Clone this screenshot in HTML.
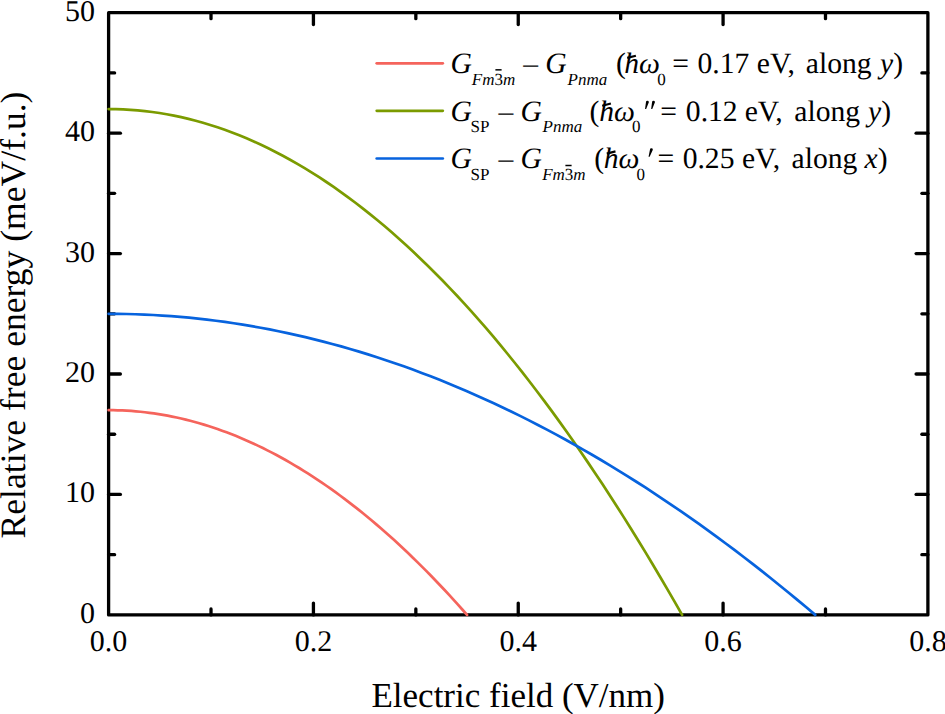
<!DOCTYPE html>
<html><head><meta charset="utf-8"><style>
html,body{margin:0;padding:0;background:#fff;width:945px;height:714px;overflow:hidden}
svg{display:block}
text{font-family:"Liberation Serif",serif;fill:#000;text-rendering:geometricPrecision;}
</style></head><body>
<svg width="945" height="714" viewBox="0 0 945 714">
<rect width="945" height="714" fill="#fff"/>
<g stroke="#000" stroke-width="3.3" stroke-linecap="round" fill="none">
<rect x="108.6" y="12.7" width="819.3" height="602.1999999999999" stroke-linejoin="round"/>
<line x1="211.01" y1="614.90" x2="211.01" y2="608.90"/>
<line x1="211.01" y1="12.70" x2="211.01" y2="18.70"/>
<line x1="313.43" y1="614.90" x2="313.43" y2="603.10"/>
<line x1="313.43" y1="12.70" x2="313.43" y2="24.50"/>
<line x1="415.84" y1="614.90" x2="415.84" y2="608.90"/>
<line x1="415.84" y1="12.70" x2="415.84" y2="18.70"/>
<line x1="518.25" y1="614.90" x2="518.25" y2="603.10"/>
<line x1="518.25" y1="12.70" x2="518.25" y2="24.50"/>
<line x1="620.66" y1="614.90" x2="620.66" y2="608.90"/>
<line x1="620.66" y1="12.70" x2="620.66" y2="18.70"/>
<line x1="723.08" y1="614.90" x2="723.08" y2="603.10"/>
<line x1="723.08" y1="12.70" x2="723.08" y2="24.50"/>
<line x1="825.49" y1="614.90" x2="825.49" y2="608.90"/>
<line x1="825.49" y1="12.70" x2="825.49" y2="18.70"/>
<line x1="108.60" y1="554.68" x2="114.60" y2="554.68"/>
<line x1="927.90" y1="554.68" x2="921.90" y2="554.68"/>
<line x1="108.60" y1="494.46" x2="120.40" y2="494.46"/>
<line x1="927.90" y1="494.46" x2="916.10" y2="494.46"/>
<line x1="108.60" y1="434.24" x2="114.60" y2="434.24"/>
<line x1="927.90" y1="434.24" x2="921.90" y2="434.24"/>
<line x1="108.60" y1="374.02" x2="120.40" y2="374.02"/>
<line x1="927.90" y1="374.02" x2="916.10" y2="374.02"/>
<line x1="108.60" y1="313.80" x2="114.60" y2="313.80"/>
<line x1="927.90" y1="313.80" x2="921.90" y2="313.80"/>
<line x1="108.60" y1="253.58" x2="120.40" y2="253.58"/>
<line x1="927.90" y1="253.58" x2="916.10" y2="253.58"/>
<line x1="108.60" y1="193.36" x2="114.60" y2="193.36"/>
<line x1="927.90" y1="193.36" x2="921.90" y2="193.36"/>
<line x1="108.60" y1="133.14" x2="120.40" y2="133.14"/>
<line x1="927.90" y1="133.14" x2="916.10" y2="133.14"/>
<line x1="108.60" y1="72.92" x2="114.60" y2="72.92"/>
<line x1="927.90" y1="72.92" x2="921.90" y2="72.92"/>
</g>
<g fill="none" stroke-linecap="round" stroke-linejoin="round" stroke-width="2.7">
<path d="M108.60,410.15 L113.14,410.18 L117.67,410.28 L122.21,410.45 L126.75,410.68 L131.29,410.97 L135.82,411.33 L140.36,411.76 L144.90,412.25 L149.44,412.81 L153.97,413.43 L158.51,414.12 L163.05,414.88 L167.58,415.70 L172.12,416.58 L176.66,417.53 L181.20,418.55 L185.73,419.63 L190.27,420.78 L194.81,422.00 L199.35,423.27 L203.88,424.62 L208.42,426.03 L212.96,427.51 L217.49,429.05 L222.03,430.66 L226.57,432.33 L231.11,434.07 L235.64,435.87 L240.18,437.74 L244.72,439.68 L249.26,441.68 L253.79,443.75 L258.33,445.88 L262.87,448.08 L267.40,450.34 L271.94,452.67 L276.48,455.06 L281.02,457.53 L285.55,460.05 L290.09,462.64 L294.63,465.30 L299.17,468.02 L303.70,470.81 L308.24,473.67 L312.78,476.59 L317.31,479.57 L321.85,482.62 L326.39,485.74 L330.93,488.92 L335.46,492.17 L340.00,495.48 L344.54,498.86 L349.07,502.31 L353.61,505.82 L358.15,509.39 L362.69,513.03 L367.22,516.74 L371.76,520.51 L376.30,524.35 L380.84,528.26 L385.37,532.23 L389.91,536.26 L394.45,540.36 L398.98,544.53 L403.52,548.76 L408.06,553.06 L412.60,557.42 L417.13,561.85 L421.67,566.35 L426.21,570.91 L430.75,575.53 L435.28,580.22 L439.82,584.98 L444.36,589.80 L448.89,594.69 L453.43,599.64 L457.97,604.66 L462.51,609.75 L467.04,614.90" stroke="#F5645C"/>
<path d="M108.60,109.05 L115.86,109.13 L123.12,109.38 L130.38,109.78 L137.64,110.35 L144.90,111.08 L152.16,111.97 L159.42,113.02 L166.68,114.24 L173.94,115.62 L181.20,117.16 L188.46,118.86 L195.72,120.72 L202.98,122.75 L210.23,124.94 L217.49,127.29 L224.75,129.80 L232.01,132.48 L239.27,135.31 L246.53,138.31 L253.79,141.47 L261.05,144.80 L268.31,148.28 L275.57,151.93 L282.83,155.74 L290.09,159.71 L297.35,163.84 L304.61,168.14 L311.87,172.60 L319.13,177.22 L326.39,182.00 L333.65,186.94 L340.91,192.05 L348.17,197.32 L355.43,202.75 L362.69,208.34 L369.95,214.10 L377.21,220.01 L384.47,226.09 L391.73,232.33 L398.98,238.74 L406.24,245.30 L413.50,252.03 L420.76,258.92 L428.02,265.97 L435.28,273.18 L442.54,280.56 L449.80,288.10 L457.06,295.80 L464.32,303.66 L471.58,311.68 L478.84,319.87 L486.10,328.22 L493.36,336.73 L500.62,345.40 L507.88,354.24 L515.14,363.23 L522.40,372.39 L529.66,381.71 L536.92,391.20 L544.18,400.84 L551.44,410.65 L558.70,420.62 L565.96,430.75 L573.22,441.04 L580.48,451.50 L587.73,462.12 L594.99,472.90 L602.25,483.84 L609.51,494.94 L616.77,506.21 L624.03,517.64 L631.29,529.23 L638.55,540.98 L645.81,552.89 L653.07,564.97 L660.33,577.21 L667.59,589.61 L674.85,602.17 L682.11,614.90" stroke="#7B9B00"/>
<path d="M108.60,313.80 L117.54,313.85 L126.49,313.99 L135.43,314.23 L144.38,314.57 L153.32,315.01 L162.27,315.54 L171.21,316.16 L180.16,316.89 L189.10,317.71 L198.05,318.62 L206.99,319.64 L215.94,320.75 L224.88,321.95 L233.83,323.26 L242.77,324.66 L251.72,326.15 L260.66,327.74 L269.61,329.43 L278.55,331.22 L287.50,333.10 L296.44,335.08 L305.39,337.15 L314.33,339.32 L323.28,341.59 L332.22,343.95 L341.17,346.41 L350.11,348.97 L359.06,351.62 L368.00,354.37 L376.95,357.22 L385.89,360.16 L394.84,363.20 L403.78,366.34 L412.73,369.57 L421.67,372.90 L430.62,376.33 L439.56,379.85 L448.51,383.47 L457.45,387.18 L466.40,390.99 L475.34,394.90 L484.29,398.91 L493.23,403.01 L502.18,407.20 L511.12,411.50 L520.06,415.89 L529.01,420.37 L537.95,424.96 L546.90,429.64 L555.84,434.41 L564.79,439.29 L573.73,444.26 L582.68,449.32 L591.62,454.48 L600.57,459.74 L609.51,465.10 L618.46,470.55 L627.40,476.10 L636.35,481.74 L645.29,487.48 L654.24,493.32 L663.18,499.26 L672.13,505.29 L681.07,511.41 L690.02,517.64 L698.96,523.96 L707.91,530.37 L716.85,536.89 L725.80,543.50 L734.74,550.20 L743.69,557.01 L752.63,563.90 L761.58,570.90 L770.52,577.99 L779.47,585.18 L788.41,592.47 L797.36,599.85 L806.30,607.33 L815.25,614.90" stroke="#0763DE"/>
<line x1="376.7" y1="63.35" x2="442.8" y2="63.35" stroke="#F5645C"/>
<line x1="376.7" y1="110.85" x2="442.8" y2="110.85" stroke="#7B9B00"/>
<line x1="376.7" y1="158.5" x2="442.8" y2="158.5" stroke="#0763DE"/>
</g>
<g font-size="30">
<text x="108.60" y="650.50" text-anchor="middle">0.0</text>
<text x="313.43" y="650.50" text-anchor="middle">0.2</text>
<text x="518.25" y="650.50" text-anchor="middle">0.4</text>
<text x="723.08" y="650.50" text-anchor="middle">0.6</text>
<text x="927.90" y="650.50" text-anchor="middle">0.8</text>
<text x="95.00" y="622.90" text-anchor="end">0</text>
<text x="95.00" y="502.46" text-anchor="end">10</text>
<text x="95.00" y="382.02" text-anchor="end">20</text>
<text x="95.00" y="261.58" text-anchor="end">30</text>
<text x="95.00" y="141.14" text-anchor="end">40</text>
<text x="95.00" y="20.70" text-anchor="end">50</text>
</g>
<text x="518.2" y="706.6" font-size="35" text-anchor="middle">Electric field (V/nm)</text>
<text transform="translate(25.3,315) rotate(-90)" font-size="35.6" text-anchor="middle">Relative free energy (meV/f.u.)</text>
<text><tspan x="450.57" y="72.70" font-size="29.6" font-style="italic">G</tspan><tspan x="471.79" y="84.50" font-size="17.0" font-style="italic">Fm</tspan><tspan font-size="17.0" font-style="normal">3</tspan><tspan font-size="17.0" font-style="italic">m</tspan><tspan x="523.20" y="72.70" font-size="29.6">–</tspan><tspan x="545.27" y="72.70" font-size="29.6" font-style="italic">G</tspan><tspan x="567.59" y="84.50" font-size="17.0" font-style="italic">Pnma</tspan><tspan x="616.10" y="72.70" font-size="29.6">(</tspan><tspan x="624.13" y="72.70" font-size="29.6" font-style="italic">hω</tspan><tspan x="657.35" y="84.50" font-size="17.0">0</tspan><tspan x="672.13" y="72.70" font-size="29.6">=</tspan><tspan x="697.57" y="72.70" font-size="29.6">0.17</tspan><tspan x="756.84" y="72.70" font-size="29.6">eV,</tspan><tspan x="805.86" y="72.70" font-size="29.6">along</tspan><tspan x="880.07" y="72.70" font-size="29.6" font-style="italic">y</tspan><tspan font-size="29.6" font-style="normal">)</tspan></text>
<text><tspan x="450.57" y="120.50" font-size="29.6" font-style="italic">G</tspan><tspan x="470.56" y="132.30" font-size="17.0">SP</tspan><tspan x="498.50" y="120.50" font-size="29.6">–</tspan><tspan x="520.47" y="120.50" font-size="29.6" font-style="italic">G</tspan><tspan x="542.59" y="132.30" font-size="17.0" font-style="italic">Pnma</tspan><tspan x="589.40" y="120.50" font-size="29.6">(</tspan><tspan x="599.13" y="120.50" font-size="29.6" font-style="italic">hω</tspan><tspan x="631.95" y="132.30" font-size="17.0">0</tspan><tspan x="660.33" y="120.50" font-size="29.6">=</tspan><tspan x="685.87" y="120.50" font-size="29.6">0.12</tspan><tspan x="744.64" y="120.50" font-size="29.6">eV,</tspan><tspan x="794.36" y="120.50" font-size="29.6">along</tspan><tspan x="868.07" y="120.50" font-size="29.6" font-style="italic">y</tspan><tspan font-size="29.6" font-style="normal">)</tspan></text>
<text><tspan x="450.57" y="168.40" font-size="29.6" font-style="italic">G</tspan><tspan x="470.56" y="180.20" font-size="17.0">SP</tspan><tspan x="498.50" y="168.40" font-size="29.6">–</tspan><tspan x="520.47" y="168.40" font-size="29.6" font-style="italic">G</tspan><tspan x="542.19" y="180.20" font-size="17.0" font-style="italic">Fm</tspan><tspan font-size="17.0" font-style="normal">3</tspan><tspan font-size="17.0" font-style="italic">m</tspan><tspan x="594.20" y="168.40" font-size="29.6">(</tspan><tspan x="603.73" y="168.40" font-size="29.6" font-style="italic">hω</tspan><tspan x="636.45" y="180.20" font-size="17.0">0</tspan><tspan x="657.53" y="168.40" font-size="29.6">=</tspan><tspan x="682.67" y="168.40" font-size="29.6">0.25</tspan><tspan x="741.94" y="168.40" font-size="29.6">eV,</tspan><tspan x="791.56" y="168.40" font-size="29.6">along</tspan><tspan x="864.56" y="168.40" font-size="29.6" font-style="italic">x</tspan><tspan font-size="29.6" font-style="normal">)</tspan></text>
<g stroke="#000" stroke-width="2.2" stroke-linecap="butt"><line x1="627.20" y1="57.90" x2="635.90" y2="55.70"/><line x1="602.20" y1="105.70" x2="610.90" y2="103.50"/><line x1="606.80" y1="153.60" x2="615.50" y2="151.40"/></g><g fill="#000"><path d="M645.95,102.25 A1.45,1.45 0 0 1 648.85,102.25 L646.15,109.00 L645.05,109.00 Z"/><path d="M652.05,102.25 A1.45,1.45 0 0 1 654.95,102.25 L652.25,109.00 L651.15,109.00 Z"/><path d="M649.95,149.75 A1.45,1.45 0 0 1 652.85,149.75 L649.65,156.70 L648.55,156.70 Z"/></g>
<g stroke="#000" stroke-width="1.5"><line x1="495.4" y1="69.85" x2="501.6" y2="69.85"/><line x1="565.4" y1="165.5" x2="571.6" y2="165.5"/></g>
</svg>
</body></html>
